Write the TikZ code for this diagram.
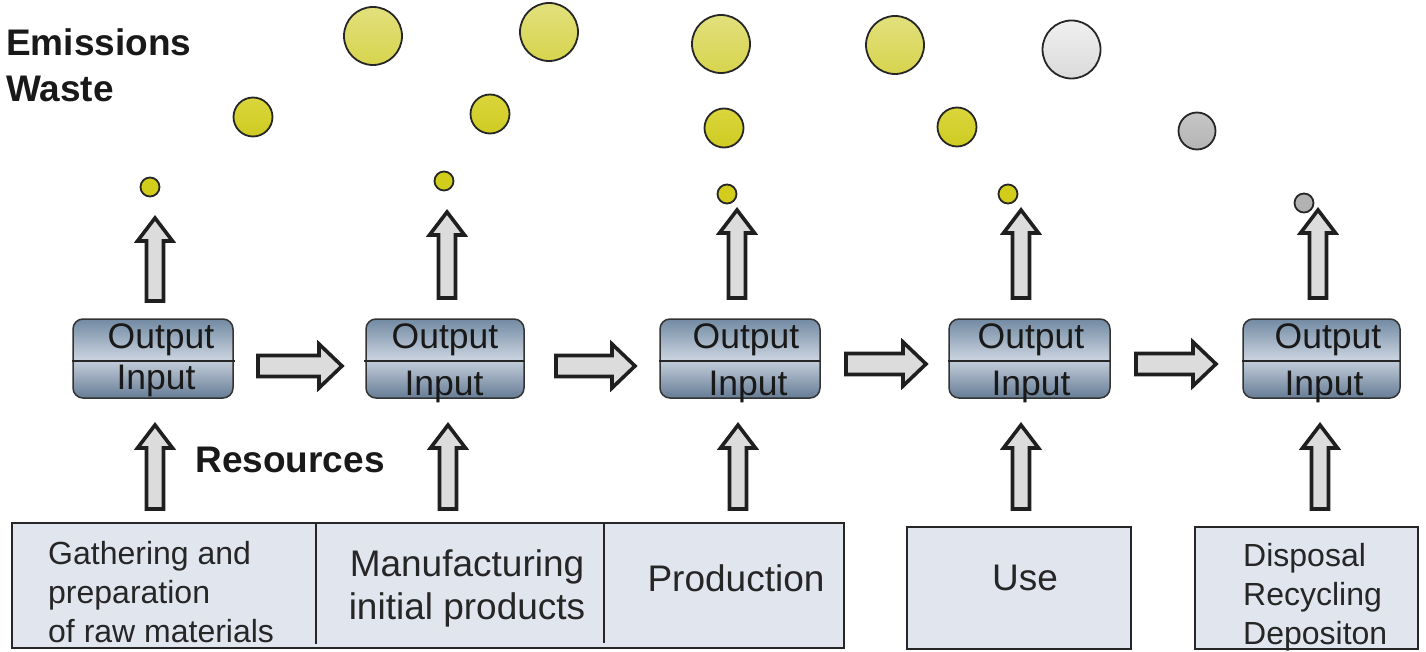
\documentclass[tikz,border=0pt]{standalone}
\usepackage{fontspec}
\setmainfont{Liberation Sans}
\definecolor{ylL}{HTML}{E2E07C}
\definecolor{ylLb}{HTML}{D7D44E}
\definecolor{ylM}{HTML}{DAD63C}
\definecolor{ylMb}{HTML}{CFCB22}
\definecolor{ylS}{HTML}{D2CD1A}
\definecolor{grL}{HTML}{F0F0F0}
\definecolor{grLb}{HTML}{DADADA}
\definecolor{grM}{HTML}{C6C6C6}
\definecolor{grMb}{HTML}{B4B4B4}
\definecolor{grS}{HTML}{B2B2B2}
\definecolor{ioTop}{HTML}{728AA3}
\definecolor{ioMid}{HTML}{C8D2DE}
\definecolor{ioBot}{HTML}{667C95}
\definecolor{boxfill}{HTML}{E1E5EE}
\definecolor{arrfill}{HTML}{DCDCDC}
\newcommand\upblk[3]{%
  \draw[blk] (#1-8.5,#3) -- (#1-8.5,#2+23) -- (#1-17.5,#2+23) -- (#1,#2) -- (#1+17.5,#2+23) -- (#1+8.5,#2+23) -- (#1+8.5,#3) -- cycle;}
\newcommand\rtblk[3]{%
  \draw[blk] (#2,#1-10.5) -- (#3-23,#1-10.5) -- (#3-23,#1-22) -- (#3,#1) -- (#3-23,#1+22) -- (#3-23,#1+10.5) -- (#2,#1+10.5) -- cycle;}
\begin{document}
\begin{tikzpicture}[x=1pt,y=-1pt,
  blk/.style={draw=black!88, line width=3.6, fill=arrfill, line join=miter},
  dot/.style={circle, draw=black!85, line width=1.8, inner sep=0pt},
  bigY/.style={dot, minimum size=58, top color=ylL, bottom color=ylLb},
  midY/.style={dot, minimum size=39, top color=ylM, bottom color=ylMb},
  smlY/.style={dot, minimum size=19, fill=ylS},
  bigG/.style={dot, minimum size=58, top color=grL, bottom color=grLb},
  midG/.style={dot, minimum size=37, top color=grM, bottom color=grMb},
  smlG/.style={dot, minimum size=19, fill=grS},
  iobox/.style={rectangle, rounded corners=10, draw=black!80, line width=1.5,
     top color=ioTop, bottom color=ioBot, middle color=ioMid, minimum height=79, inner sep=0pt},
  iotxt/.style={font=\fontsize{35.5}{38}\selectfont, inner sep=0pt, text=black!90},
  divline/.style={draw=black!85, line width=1.3},
  bbox/.style={rectangle, draw=black!85, line width=2, fill=boxfill, inner sep=0pt},
  btxt/.style={font=\fontsize{32}{39}\selectfont, inner sep=0pt, text=black!85},
  bigtxt/.style={font=\fontsize{37}{43}\selectfont, inner sep=0pt, text=black!85},
  lbl/.style={font=\fontsize{37}{46}\bfseries\selectfont, inner sep=0pt, text=black!90}
]
\useasboundingbox (0,0) rectangle (1426,652);

% labels
\node[lbl, anchor=west, align=left] (ew) at (6,65) {Emissions\\Waste};
\node[lbl] (res) at (290,460) {Resources};

% circles
\node[bigY] (c1a) at (373,36) {};
\node[bigY] (c2a) at (549,32) {};
\node[bigY] (c3a) at (721,44) {};
\node[bigY] (c4a) at (895,45) {};
\node[bigG] (c5a) at (1071.5,49.5) {};
\node[midY] (c1b) at (253,117) {};
\node[midY] (c2b) at (490,114) {};
\node[midY] (c3b) at (724,128) {};
\node[midY] (c4b) at (957,127) {};
\node[midG] (c5b) at (1197,131) {};
\node[smlY] (c1c) at (150,187) {};
\node[smlY] (c2c) at (444,181) {};
\node[smlY] (c3c) at (727,194) {};
\node[smlY] (c4c) at (1008,194) {};
\node[smlG] (c5c) at (1304,203) {};

% io boxes
\node[iobox, minimum width=160] (b1) at (153,358.5) {};
\node[iobox, minimum width=158] (b2) at (445,358.5) {};
\node[iobox, minimum width=160] (b3) at (740,358.5) {};
\node[iobox, minimum width=161] (b4) at (1029.5,358.5) {};
\node[iobox, minimum width=157] (b5) at (1321.5,358.5) {};
\draw[divline] (72,361) -- (235,361);
\draw[divline] (364,361) -- (524,361);
\draw[divline] (659,361) -- (820,361);
\draw[divline] (948,361) -- (1110,361);
\draw[divline] (1242,361) -- (1400,361);
\node[iotxt] (o1) at (161,340) {Output};
\node[iotxt] (i1) at (156,381) {Input};
\node[iotxt] (o2) at (445,340) {Output};
\node[iotxt] (i2) at (444,387) {Input};
\node[iotxt] (o3) at (746,340) {Output};
\node[iotxt] (i3) at (748,387) {Input};
\node[iotxt] (o4) at (1031,340) {Output};
\node[iotxt] (i4) at (1031,387) {Input};
\node[iotxt] (o5) at (1328,340) {Output};
\node[iotxt] (i5) at (1324,387) {Input};

% up arrows (top)
\upblk{155}{218}{301}
\upblk{447}{212}{298}
\upblk{737}{210}{298}
\upblk{1021}{210}{298}
\upblk{1318}{210}{298}
% up arrows (bottom)
\upblk{155}{425}{509}
\upblk{448}{425}{509}
\upblk{738}{425}{509}
\upblk{1021}{425}{509}
\upblk{1320}{425}{509}
% right arrows
\rtblk{366}{258}{342}
\rtblk{366}{556}{635}
\rtblk{364}{846}{926}
\rtblk{364}{1136}{1216}

% bottom boxes
\node[bbox, minimum width=832, minimum height=125] (bA) at (428,585.5) {};
\draw[line width=2, draw=black!85] (316,523) -- (316,644);
\draw[line width=2, draw=black!85] (604,523) -- (604,643);
\node[bbox, minimum width=224, minimum height=122] (bU) at (1019,588) {};
\node[bbox, minimum width=223, minimum height=122] (bD) at (1306.5,588) {};

\node[btxt, anchor=west, align=left] (t1) at (48,592) {Gathering and\\preparation\\of raw materials};
\node[bigtxt, align=center] (t2) at (467,588) {Manufacturing\\initial products};
\node[bigtxt] (t3) at (736,578) {Production};
\node[bigtxt] (t4) at (1025,578) {Use};
\node[btxt, anchor=west, align=left] (t5) at (1243,597) {Disposal\\Recycling\\Depositon};
\end{tikzpicture}
\end{document}
